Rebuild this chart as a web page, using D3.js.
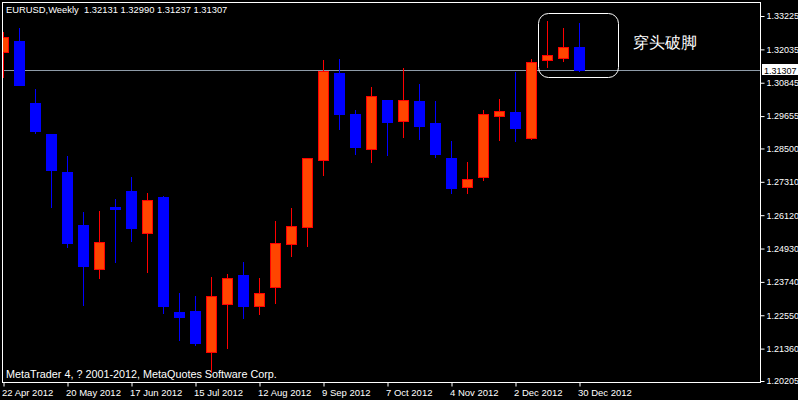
<!DOCTYPE html>
<html>
<head>
<meta charset="utf-8">
<script src="https://cdn.jsdelivr.net/npm/d3@7"></script>
<style>
  body { margin: 0; background: #000; }
  svg { display: block; }
  text { font-family: "Liberation Sans", Arial, sans-serif; }
</style>
</head>
<body>
<svg width="798" height="400"></svg>
<script>
const WIDTH = 798
const HEIGHT = 400

// weekly bars, EURUSD
const weeks = ['2012-04-22','2012-04-29','2012-05-06','2012-05-13','2012-05-20','2012-05-27','2012-06-03',
  '2012-06-10','2012-06-17','2012-06-24','2012-07-01','2012-07-08','2012-07-15','2012-07-22','2012-07-29',
  '2012-08-05','2012-08-12','2012-08-19','2012-08-26','2012-09-02','2012-09-09','2012-09-16','2012-09-23',
  '2012-09-30','2012-10-07','2012-10-14','2012-10-21','2012-10-28','2012-11-04','2012-11-11','2012-11-18',
  '2012-11-25','2012-12-02','2012-12-09','2012-12-16','2012-12-23','2012-12-30']
const open  = [1.31952,1.32333,1.30122,1.29016,1.27660,1.25770,1.24190,1.26412,1.26983,1.25474,1.26769,1.22666,1.22702,
  1.21229,1.22962,1.23986,1.22891,1.23548,1.25103,1.25709,1.28078,1.31192,1.29729,1.28470,1.30229,1.29490,1.30183,
  1.29398,1.28160,1.27115,1.27471,1.29647,1.29801,1.28856,1.31645,1.31716,1.32131]
const high  = [1.32655,1.32787,1.30621,1.29030,1.28231,1.26234,1.26269,1.26697,1.27482,1.26911,1.26804,1.23344,1.23237,
  1.23915,1.24022,1.24450,1.23879,1.25913,1.26376,1.28160,1.31656,1.31691,1.29872,1.30693,1.30240,1.31370,1.30800,
  1.30193,1.28766,1.28017,1.29872,1.30265,1.31228,1.31691,1.33058,1.32808,1.32990]
const low   = [1.31014,1.30739,1.29027,1.26387,1.24960,1.22891,1.23854,1.24414,1.25174,1.24058,1.22606,1.21632,1.21464,
  1.20508,1.21347,1.22417,1.22559,1.22962,1.24639,1.24996,1.27518,1.29169,1.28267,1.27981,1.28231,1.28873,1.28813,
  1.28171,1.26886,1.26886,1.27350,1.28777,1.28741,1.28802,1.31381,1.31595,1.31237]
const close = [1.32466,1.30764,1.29123,1.27743,1.25128,1.24318,1.25163,1.26341,1.25674,1.26662,1.22891,1.22488,1.21561,
  1.23237,1.23879,1.22891,1.23344,1.25128,1.25734,1.28149,1.31253,1.29740,1.28552,1.30361,1.29455,1.30218,1.29312,
  1.28313,1.27101,1.27400,1.29719,1.29826,1.29241,1.31574,1.31834,1.32109,1.31307]

const priceTicks = [1.33225,1.32035,1.30845,1.29655,1.28500,1.27310,1.26120,1.24930,1.23740,1.22550,1.21360,1.20205]
const dateTicks = ['2012-04-22','2012-05-20','2012-06-17','2012-07-15','2012-08-12','2012-09-09','2012-10-07',
  '2012-11-04','2012-12-02','2012-12-30']
const lastPrice = 1.31307
const title = 'EURUSD,Weekly  1.32131 1.32990 1.31237 1.31307'
const copyright = 'MetaTrader 4, ? 2001-2012, MetaQuotes Software Corp.'
const note = '穿头破脚'

const parse = d3.utcParse('%Y-%m-%d')
const bars = weeks.map((w, i) => ({date: parse(w), o: open[i], h: high[i], l: low[i], c: close[i]}))

const x = d3.scaleUtc()
  .domain([parse('2012-04-22'), parse('2012-12-30')])
  .range([3, 579])
const y = d3.scaleLinear()
  .domain([1.20205, 1.33225])
  .range([381, 16])

const svg = d3.select('svg')

svg.append('rect').attr('width', WIDTH).attr('height', HEIGHT).attr('fill', '#000')

svg.append('defs').append('clipPath').attr('id', 'plot')
  .append('rect').attr('x', 3).attr('y', 3).attr('width', 757).attr('height', 379)

// bid line
const ly = Math.round(y(lastPrice)) + 0.5
svg.append('line')
  .attr('x1', 3).attr('x2', 760).attr('y1', ly).attr('y2', ly)
  .attr('stroke', '#8e9ba8')

const candles = svg.append('g').attr('clip-path', 'url(#plot)')
  .selectAll('g').data(bars).enter().append('g')

candles.append('line')
  .attr('x1', d => Math.round(x(d.date)) + 0.5)
  .attr('x2', d => Math.round(x(d.date)) + 0.5)
  .attr('y1', d => Math.round(y(d.h)))
  .attr('y2', d => Math.round(y(d.l)))
  .attr('stroke', d => d.c >= d.o ? '#ff0000' : '#0000ff')

candles.append('rect')
  .attr('x', d => Math.round(x(d.date)) - 4.5)
  .attr('width', 10)
  .attr('y', d => Math.round(y(Math.max(d.o, d.c))) + 0.5)
  .attr('height', d => Math.max(1, Math.round(y(Math.min(d.o, d.c))) - Math.round(y(Math.max(d.o, d.c)))))
  .attr('fill', d => d.c >= d.o ? '#ff4500' : '#0000ff')
  .attr('stroke', d => d.c >= d.o ? '#ff0000' : '#0000ff')

// frame
svg.append('rect')
  .attr('x', 2.5).attr('y', 2.5).attr('width', 758).attr('height', 380)
  .attr('fill', 'none').attr('stroke', '#fff')

const yAxis = svg.append('g')
  .attr('transform', 'translate(760.5,0)')
  .call(d3.axisRight(y).tickValues(priceTicks).tickFormat(d3.format('.5f')).tickSize(4).tickPadding(2))
yAxis.select('.domain').remove()
yAxis.selectAll('line').attr('stroke', '#fff')
yAxis.selectAll('text').attr('fill', '#fff').attr('font-size', 9).attr('font-family', '"Liberation Sans", Arial, sans-serif')

const xAxis = svg.append('g')
  .attr('transform', 'translate(0,382.5)')
  .call(d3.axisBottom(x).tickValues(dateTicks.map(parse)).tickFormat(d3.utcFormat('%-d %b %Y')).tickSize(4).tickPadding(3))
xAxis.select('.domain').remove()
xAxis.selectAll('line').attr('stroke', '#fff').attr('transform', 'translate(0.5,0)')
xAxis.selectAll('text').attr('fill', '#fff').attr('font-size', 9.5).attr('text-anchor', 'start')
  .attr('dx', -1.5).attr('font-family', '"Liberation Sans", Arial, sans-serif')

// last price label
svg.append('rect').attr('x', 762).attr('y', ly - 6.5).attr('width', 36).attr('height', 11).attr('fill', '#fff')
svg.append('text').attr('x', 764).attr('y', ly + 3).attr('font-size', 9).attr('fill', '#000').text(d3.format('.5f')(lastPrice))

svg.append('text').attr('x', 6).attr('y', 13).attr('font-size', 9.4).attr('fill', '#fff')
  .attr('xml:space', 'preserve').style('white-space', 'pre').text(title)
svg.append('text').attr('x', 6).attr('y', 378).attr('font-size', 10.8).attr('fill', '#fff').text(copyright)

// annotation
svg.append('rect')
  .attr('x', 538.5).attr('y', 13.5).attr('width', 80).attr('height', 64).attr('rx', 10)
  .attr('fill', 'none').attr('stroke', '#fff')
svg.append('text').attr('x', 633).attr('y', 48).attr('font-size', 15.5).attr('fill', '#fff')
  .attr('font-family', '"Noto Sans CJK SC", sans-serif').text(note)
</script>
</body>
</html>
